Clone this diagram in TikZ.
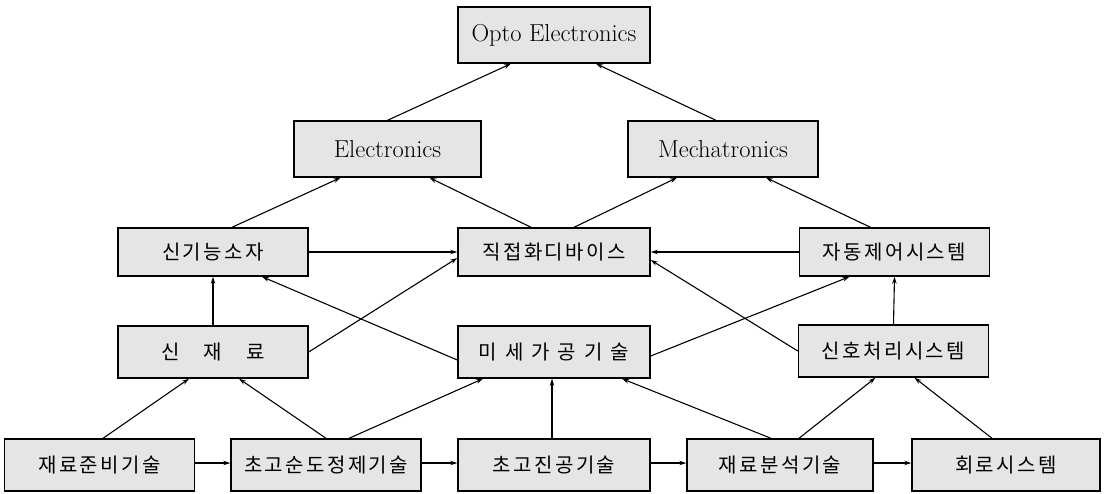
\documentclass[tikz,border=0pt]{standalone}
\usepackage{fontspec}
\newfontfamily\kr[LetterSpace=12]{Noto Sans CJK KR}
\usetikzlibrary{arrows.meta}

\tikzset{
  tbox/.style={draw, line width=1.4pt, fill=gray!20, minimum width=190pt,
    minimum height=52pt, inner sep=0pt, font=\kr\fontsize{20}{24}\selectfont},
  ebox/.style={tbox, minimum height=56pt, font=\fontsize{24.5}{28}\selectfont},
  arr/.style={line width=1.1pt, -{Stealth[length=7pt,width=4.5pt]}}
}

\begin{document}
\begin{tikzpicture}[x=1pt,y=-1pt]

\useasboundingbox (0,0) rectangle (1110,493);

% top
\node[ebox, minimum width=192pt] (opto) at (554,35) {Opto Electronics};
\node[ebox, minimum width=187pt] (elec) at (387.5,149) {Electronics};
\node[ebox] (mecha) at (723,149) {Mechatronics};

% devices and systems
\node[tbox, minimum height=48pt] (newfunc) at (213,252) {신기능소자};
\node[tbox, minimum height=48pt, minimum width=192pt] (integ) at (554,252) {직접화디바이스};
\node[tbox, minimum height=48pt] (autoctl) at (894.5,252) {자동제어시스템};

\node[tbox] (newmat) at (213,352) {신\hspace{1.2em}재\hspace{1.2em}료};
\node[tbox, minimum width=192pt] (micro) at (554,352) {미\hspace{0.4em}세\hspace{0.4em}가\hspace{0.4em}공\hspace{0.4em}기\hspace{0.4em}술};
\node[tbox] (signal) at (893.5,351) {신호처리시스템};

% base technologies
\node[tbox] (matprep) at (99.5,465) {재료준비기술};
\node[tbox] (purify) at (326,465) {초고순도정제기술};
\node[tbox, minimum width=192pt] (vacuum) at (554,465) {초고진공기술};
\node[tbox, minimum width=186pt] (analysis) at (780,465) {재료분석기술};
\node[tbox, minimum width=188pt] (circuit) at (1006,465) {회로시스템};

% connectors
\draw[arr] (elec.north) -- ([xshift=-43pt]opto.south);
\draw[arr] ([xshift=-7pt]mecha.north) -- ([xshift=42pt]opto.south);

\draw[arr] ([xshift=19pt]newfunc.north) -- ([xshift=-47pt]elec.south);
\draw[arr] ([xshift=-23pt]integ.north) -- ([xshift=42pt]elec.south);
\draw[arr] ([xshift=20pt]integ.north) -- ([xshift=-46pt]mecha.south);
\draw[arr] ([xshift=-24pt]autoctl.north) -- ([xshift=43pt]mecha.south);

\draw[arr] (newfunc.east) -- (integ.west);
\draw[arr] (autoctl.west) -- (integ.east);

\draw[arr] (newmat.north) -- (newfunc.south);
\draw[arr] (newmat.east) -- ([yshift=-6pt]integ.west);
\draw[arr] ([yshift=-8pt]micro.west) -- ([xshift=49pt]newfunc.south);
\draw[arr] ([yshift=-4pt]micro.east) -- ([xshift=-45pt]autoctl.south);
\draw[arr] (signal.west) -- ([yshift=-8pt]integ.east);
\draw[arr] (signal.north) -- (autoctl.south);

\draw[arr] ([xshift=3.5pt]matprep.north) -- ([xshift=-24pt]newmat.south);
\draw[arr] (purify.north) -- ([xshift=26pt]newmat.south);
\draw[arr] ([xshift=23pt]purify.north) -- ([xshift=-71pt]micro.south);
\draw[arr] ([xshift=-2pt]vacuum.north) -- ([xshift=-2pt]micro.south);
\draw[arr] ([xshift=-9pt]analysis.north) -- ([xshift=68pt]micro.south);
\draw[arr] ([xshift=19pt]analysis.north) -- ([xshift=-18pt]signal.south);
\draw[arr] ([xshift=-14pt]circuit.north) -- ([xshift=21pt]signal.south);

\foreach \a/\b in {matprep/purify, purify/vacuum, vacuum/analysis, analysis/circuit}
{
\draw[arr] ([yshift=2pt]\a.east) -- ([yshift=2pt]\b.west);
}

\end{tikzpicture}
\end{document}
